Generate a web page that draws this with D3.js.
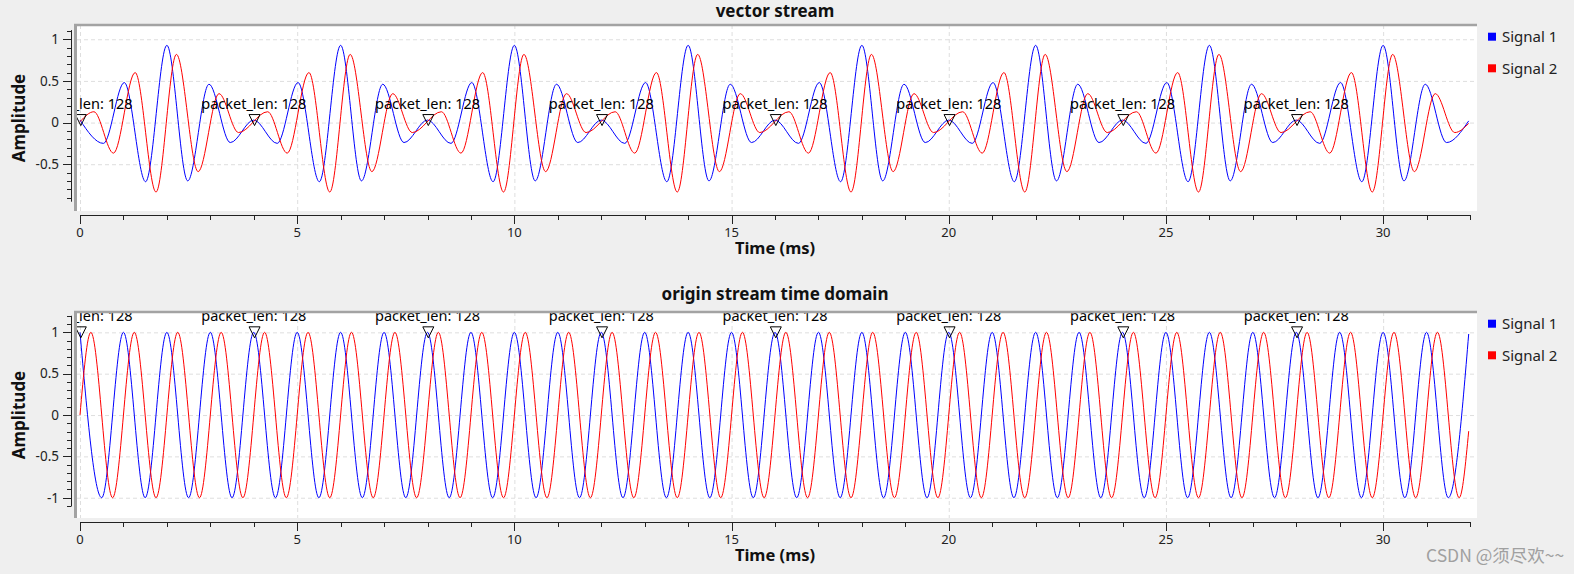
<!DOCTYPE html>
<html lang="en">
  <head>
    <meta charset="UTF-8" />
    <title>vector stream / origin stream time domain</title>
    <script src="https://d3js.org/d3.v7.min.js"></script>
    <style>
      body {
        margin: 0;
        background: #efefef;
        font-family: "Noto Sans", sans-serif;
      }
      svg {
        display: block;
      }
    </style>
  </head>
  <body>
    <script>
      // ---- data ----
      const seriesNames = ["Signal 1", "Signal 2"];
      const seriesColors = ["#0000ff", "#ff0000"];
      const timeTicks = [0, 5, 10, 15, 20, 25, 30];
      const vecAmpTicks = [1, 0.5, 0, -0.5];
      const origAmpTicks = [1, 0.5, 0, -0.5, -1];
      const tagTimes = [0, 4, 8, 12, 16, 20, 24, 28];
      const tagLabel = "packet_len: 128";
      const tEnd = 31.97; // last sample (1023 / 32 kHz)

      // vector stream: one 128-sample vector (4 ms), repeated; peaks and troughs
      const vecPeriod = 4;
      const vecS1T = [0, 0.54, 1.02, 1.51, 2.0, 2.48, 2.97, 3.46];
      const vecS1V = [0.03, -0.25, 0.48, -0.71, 0.927, -0.7, 0.46, -0.24];
      const vecS2T = [0.32, 0.77, 1.27, 1.75, 2.22, 2.72, 3.2, 3.65];
      const vecS2V = [0.13, -0.367, 0.6, -0.834, 0.818, -0.589, 0.347, -0.12];
      const vecStart = [0.03, 0.01];
      const vecEnd = [0.02, -0.01];

      // origin stream: 1 kHz tone, peaks and troughs of one 1 ms cycle
      const origPeriod = 1;
      const origS1T = [0, 0.5];
      const origS1V = [1, -1];
      const origS2T = [0.25, 0.75];
      const origS2V = [1, -1];
      const origStart = [1, 0];
      const origEnd = [0.98, -0.195];

      // repeat one period of read points over the whole record
      function tile(T, V, period, start, end) {
        const pts = [[0, start]];
        for (let k = 0; k * period < tEnd; k++) {
          T.forEach((t, i) => {
            const tt = k * period + t;
            if (tt > 0 && tt < tEnd) pts.push([tt, V[i]]);
          });
        }
        pts.push([tEnd, end]);
        return pts;
      }

      const panels = [
        {
          title: "vector stream",
          titleY: 16.5,
          canvas: { l: 77, t: 25, r: 1477, b: 211 },
          axisY: 215,
          yDomain: [-0.95, 1.11],
          yRange: [201.7, 30.1],
          ampTicks: vecAmpTicks,
          series: [
            tile(vecS1T, vecS1V, vecPeriod, vecStart[0], vecEnd[0]),
            tile(vecS2T, vecS2V, vecPeriod, vecStart[1], vecEnd[1]),
          ],
          tagValue: vecStart[0],
        },
        {
          title: "origin stream time domain",
          titleY: 299.5,
          canvas: { l: 77, t: 312, r: 1477, b: 518 },
          axisY: 522,
          yDomain: [-1.1, 1.2],
          yRange: [506, 315.8],
          ampTicks: origAmpTicks,
          series: [
            tile(origS1T, origS1V, origPeriod, origStart[0], origEnd[0]),
            tile(origS2T, origS2V, origPeriod, origStart[1], origEnd[1]),
          ],
          tagValue: origStart[0],
        },
      ];

      const svg = d3
        .select("body")
        .append("svg")
        .attr("width", 1574)
        .attr("height", 574);

      const x = d3.scaleLinear().domain([0, 32]).range([80, 1470]);
      const frameColor = "#a3a3a3";
      const gridColor = "#dedede";

      panels.forEach((p, pi) => {
        const c = p.canvas;
        const y = d3.scaleLinear().domain(p.yDomain).range(p.yRange);
        const g = svg.append("g");

        // canvas
        g.append("rect")
          .attr("x", c.l)
          .attr("y", c.t)
          .attr("width", c.r - c.l)
          .attr("height", c.b - c.t)
          .attr("fill", "#ffffff");

        const clipId = "clip" + pi;
        svg
          .append("clipPath")
          .attr("id", clipId)
          .append("rect")
          .attr("x", c.l)
          .attr("y", c.t)
          .attr("width", c.r - c.l)
          .attr("height", c.b - c.t);

        // grid
        const grid = g.append("g").attr("stroke", gridColor).attr("stroke-dasharray", "4,3");
        grid
          .selectAll("line.gx")
          .data(timeTicks)
          .join("line")
          .attr("x1", (d) => x(d) + 0.5)
          .attr("x2", (d) => x(d) + 0.5)
          .attr("y1", c.t)
          .attr("y2", c.b);
        grid
          .selectAll("line.gy")
          .data(p.ampTicks)
          .join("line")
          .attr("class", "gy")
          .attr("x1", c.l)
          .attr("x2", c.r)
          .attr("y1", (d) => y(d) + 0.5)
          .attr("y2", (d) => y(d) + 0.5);

        // curves
        const line = d3
          .line()
          .x((d) => x(d[0]))
          .y((d) => y(d[1]))
          .curve(d3.curveMonotoneX);

        const plot = g.append("g").attr("clip-path", `url(#${clipId})`);
        plot
          .selectAll("path")
          .data(p.series)
          .join("path")
          .attr("d", line)
          .attr("fill", "none")
          .attr("stroke", (d, i) => seriesColors[i])
          .attr("stroke-width", 1);

        // tags
        plot
          .selectAll("text.tag")
          .data(tagTimes)
          .join("text")
          .attr("class", "tag")
          .attr("x", (d) => x(d))
          .attr("y", y(p.tagValue) - 11)
          .attr("text-anchor", "middle")
          .style("font-size", "14.5px")
          .attr("fill", "#000")
          .text(tagLabel);

        g.selectAll("path.tri")
          .data(tagTimes)
          .join("path")
          .attr("class", "tri")
          .attr("d", (d) => {
            const px = x(d) + 0.8,
              py = y(p.tagValue);
            return `M${px - 5.5},${py - 5.5}L${px + 5.5},${py - 5.5}L${px},${py + 5.5}Z`;
          })
          .attr("fill", "none")
          .attr("stroke", "#000")
          .attr("stroke-width", 1);

        // canvas frame (top and left)
        g.append("line")
          .attr("x1", c.l - 3)
          .attr("x2", c.r)
          .attr("y1", c.t)
          .attr("y2", c.t)
          .attr("stroke", frameColor)
          .attr("stroke-width", 2.5);
        g.append("line")
          .attr("x1", c.l - 1.5)
          .attr("x2", c.l - 1.5)
          .attr("y1", c.t - 1)
          .attr("y2", c.b)
          .attr("stroke", frameColor)
          .attr("stroke-width", 3);

        // y axis
        const ya = g.append("g").attr("stroke", "#222").attr("stroke-width", 1);
        ya.append("line")
          .attr("x1", 71.5)
          .attr("x2", 71.5)
          .attr("y1", y(p.yDomain[1]))
          .attr("y2", y(p.yDomain[0]));
        const minorY = d3
          .range(Math.ceil(p.yDomain[0] * 10), Math.floor(p.yDomain[1] * 10) + 1)
          .map((i) => i / 10);
        ya.selectAll("line.ty")
          .data(minorY)
          .join("line")
          .attr("class", "ty")
          .attr("x1", (d) => (Math.round(d * 10) % 5 === 0 ? 63 : 67))
          .attr("x2", 71.5)
          .attr("y1", (d) => Math.round(y(d)) + 0.5)
          .attr("y2", (d) => Math.round(y(d)) + 0.5);
        g.selectAll("text.yl")
          .data(p.ampTicks)
          .join("text")
          .attr("class", "yl")
          .attr("x", 59)
          .attr("y", (d) => y(d) + 4.8)
          .attr("text-anchor", "end")
          .style("font-size", "13.5px")
          .attr("fill", "#222")
          .text((d) => String(d));

        // x axis
        const xa = g.append("g").attr("stroke", "#222").attr("stroke-width", 1);
        xa.append("line")
          .attr("x1", x(0))
          .attr("x2", x(32))
          .attr("y1", p.axisY + 0.5)
          .attr("y2", p.axisY + 0.5);
        xa.selectAll("line.tx")
          .data(d3.range(0, 33))
          .join("line")
          .attr("class", "tx")
          .attr("x1", (d) => Math.round(x(d)) + 0.5)
          .attr("x2", (d) => Math.round(x(d)) + 0.5)
          .attr("y1", p.axisY)
          .attr("y2", (d) => p.axisY + (d % 5 === 0 ? 9 : 5));
        g.selectAll("text.xl")
          .data(timeTicks)
          .join("text")
          .attr("class", "xl")
          .attr("x", (d) => x(d))
          .attr("y", p.axisY + 22)
          .attr("text-anchor", "middle")
          .style("font-size", "13px")
          .attr("fill", "#222")
          .text((d) => d);

        // titles and axis labels
        g.append("text")
          .attr("x", x(16))
          .attr("y", p.titleY)
          .attr("text-anchor", "middle")
          .style("font-size", "17px")
          .style("font-weight", "bold")
          .attr("fill", "#111")
          .text(p.title);
        g.append("text")
          .attr("x", x(16))
          .attr("y", p.axisY + 38.5)
          .attr("text-anchor", "middle")
          .style("font-size", "16.5px")
          .style("font-weight", "bold")
          .attr("fill", "#111")
          .text("Time (ms)");
        g.append("text")
          .attr("transform", `translate(25,${(c.t + c.b) / 2}) rotate(-90)`)
          .attr("text-anchor", "middle")
          .style("font-size", "17px")
          .style("font-weight", "bold")
          .attr("fill", "#111")
          .text("Amplitude");

        // legend
        const lg = g
          .selectAll("g.leg")
          .data(seriesNames)
          .join("g")
          .attr("class", "leg")
          .attr("transform", (d, i) => `translate(1488,${c.t + 11.7 + i * 31.6})`);
        lg.append("rect")
          .attr("x", 0)
          .attr("y", -4)
          .attr("width", 8)
          .attr("height", 8)
          .attr("fill", (d, i) => seriesColors[i]);
        lg.append("text")
          .attr("x", 14)
          .attr("y", 5.5)
          .style("font-size", "15px")
          .attr("fill", "#222")
          .text((d) => d);
      });

      // watermark
      svg
        .append("text")
        .attr("x", 1426)
        .attr("y", 562)
        .style("font-family", '"Noto Sans CJK SC", "Noto Sans", sans-serif')
        .style("font-size", "17.5px")
        .attr("fill", "#a0a0a0")
        .text("CSDN @须尽欢~~");
    </script>
  </body>
</html>
